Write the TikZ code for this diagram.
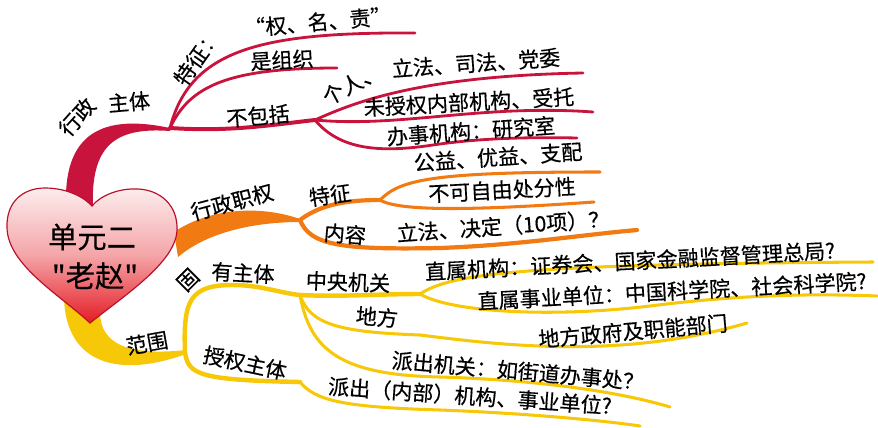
\documentclass[tikz,border=0pt]{standalone}
\usepackage{fontspec}
\newfontfamily\cjk[FakeBold=0.4]{Noto Sans CJK SC}
\definecolor{branchred}{HTML}{C8143C}
\definecolor{branchorange}{HTML}{F27A12}
\definecolor{branchyellow}{HTML}{F7C808}
\definecolor{heartred}{HTML}{E41C24}
\definecolor{heartedge}{HTML}{B8102A}

\begin{document}
\begin{tikzpicture}[x=0.03cm, y=-0.03cm, line cap=round,
  lbl/.style={font=\cjk\fontsize{18}{21}\selectfont, inner sep=0pt},
  title/.style={font=\cjk\fontsize{25}{28}\selectfont, inner sep=0pt},
  redmid/.style={draw=branchred, line width=3.4pt},
  redleaf/.style={draw=branchred, line width=2.4pt},
  orangemid/.style={draw=branchorange, line width=3.6pt},
  orangeleaf/.style={draw=branchorange, line width=2.6pt},
  yellowmid/.style={draw=branchyellow, line width=3.8pt},
  yellowleaf/.style={draw=branchyellow, line width=2.6pt}]
  \useasboundingbox (0,0) rectangle (878,428);
  \coordinate (zt) at (170,128);
  \coordinate (bk) at (315,120);
  \coordinate (zq) at (300,220);
  \coordinate (tz) at (380,200);
  \coordinate (fw) at (185,352);
  \coordinate (gy) at (300,295);
  \coordinate (zy) at (420,294);
  \coordinate (sq) at (300,382);
  \coordinate (qmz_e) at (415,33);
  \coordinate (szz_e) at (337,68);
  \coordinate (gr_e) at (583,73);
  \coordinate (wsq_e) at (593,112);
  \coordinate (bsj_e) at (577,138);
  \coordinate (gy_e) at (600,172);
  \coordinate (bky_e) at (594,202);
  \coordinate (nr_e) at (637,230);
  \coordinate (zsjg_e) at (873,262);
  \coordinate (zssy_e) at (877,296);
  \coordinate (df_e) at (747,323);
  \coordinate (pcjg_e) at (670,407);
  \coordinate (pcnb_e) at (640,426);

  % trunks
  \fill[branchred] (66,205) .. controls (64,140) and (95,112) .. (zt)
    -- (170,131) .. controls (115,127) and (90,145) .. (93,210) -- cycle;
  \fill[branchorange] (174,232) .. controls (210,208) and (260,205) .. (300,219)
    -- (zq) -- (300,222) .. controls (260,222) and (210,230) .. (178,257) -- cycle;
  \fill[branchyellow] (64,298) .. controls (66,365) and (120,378) .. (186,354)
    -- (186,350) .. controls (130,356) and (100,345) .. (100,312) -- cycle;

  % 行政主体
  \draw[redleaf] (zt) .. controls (190,50) and (260,32) .. (qmz_e);
  \draw[redleaf] (zt) .. controls (190,85) and (230,68) .. (szz_e);
  \draw[redmid] (zt) .. controls (230,132) and (270,125) .. (bk);
  \draw[redleaf] (bk) .. controls (355,102) and (420,76) .. (gr_e);
  \draw[redleaf] (bk) .. controls (400,128) and (480,104) .. (wsq_e);
  \draw[redleaf] (bk) .. controls (340,150) and (380,153) .. (433,145)
    .. controls (480,138) and (530,137) .. (bsj_e);
  \node[lbl, rotate=48] (xz) at (77,117) {行政};
  \node[lbl, rotate=5] (zti) at (129,102) {主体};
  \node[lbl, rotate=55] (tzh) at (197,57) {特征：};
  \node[lbl, rotate=5] (qmz) at (318,22) {“权、名、责”};
  \node[lbl, rotate=3] (szz) at (282,60) {是组织};
  \node[lbl, rotate=5] (bkk) at (258,116) {不包括};
  \node[lbl, rotate=28] (gr) at (352,84) {个人、};
  \node[lbl, rotate=4] (lf) at (476,63) {立法、司法、党委};
  \node[lbl, rotate=3] (wsq) at (469,102) {未授权内部机构、受托};
  \node[lbl, rotate=4] (bsj) at (471,131) {办事机构：研究室};

  % 行政职权
  \draw[orangemid] (zq) .. controls (320,205) and (345,200) .. (tz);
  \draw[orangeleaf] (tz) .. controls (400,180) and (430,172) .. (gy_e);
  \draw[orangeleaf] (tz) .. controls (400,212) and (480,210) .. (bky_e);
  \draw[orangemid] (zq) .. controls (310,245) and (340,250) .. (440,248)
    .. controls (520,245) and (580,235) .. (nr_e);
  \node[lbl, rotate=15] (zqn) at (232,202) {行政职权};
  \node[lbl, rotate=8] (tzo) at (330,195) {特征};
  \node[lbl, rotate=4] (gyn) at (498,157) {公益、优益、支配};
  \node[lbl, rotate=3] (bky) at (502,190) {不可自由处分性};
  \node[lbl, rotate=-5] (nr) at (345,234) {内容};
  \node[lbl, rotate=4] (lfj) at (503,226) {立法、决定（10项）？};

  % 范围
  \draw[yellowmid] (fw) .. controls (183,300) and (190,285) .. (233,285)
    .. controls (260,285) and (280,293) .. (gy);
  \draw[yellowmid] (gy) .. controls (340,297) and (380,294) .. (zy);
  \draw[yellowleaf] (zy) .. controls (450,274) and (520,264) .. (zsjg_e);
  \draw[yellowleaf] (zy) .. controls (450,312) and (550,318) .. (650,306)
    .. controls (730,296) and (800,293) .. (zssy_e);
  \draw[yellowleaf] (gy) .. controls (310,325) and (340,332) .. (420,335)
    .. controls (500,345) and (620,360) .. (df_e);
  \draw[yellowleaf] (gy) .. controls (310,350) and (340,375) .. (440,377)
    .. controls (540,380) and (620,392) .. (pcjg_e);
  \draw[yellowmid] (fw) .. controls (188,375) and (200,380) .. (sq);
  \draw[yellowleaf] (sq) .. controls (315,400) and (340,407) .. (440,410)
    .. controls (520,413) and (600,420) .. (pcnb_e);
  \node[lbl, rotate=10] (fwn) at (147,343) {范围};
  \node[lbl, rotate=45] (gu) at (188,280) {固};
  \node[lbl, rotate=-3] (yzt) at (243,273) {有主体};
  \node[lbl, rotate=-2] (zyj) at (348,282) {中央机关};
  \node[lbl, rotate=3] (zsjg) at (630,261) {直属机构：证券会、国家金融监督管理总局?};
  \node[lbl, rotate=3] (zssy) at (672,291) {直属事业单位：中国科学院、社会科学院?};
  \node[lbl, rotate=-5] (dfn) at (377,317) {地方};
  \node[lbl, rotate=5] (dfzf) at (633,331) {地方政府及职能部门};
  \node[lbl, rotate=-5] (pcjg) at (518,371) {派出机关：如街道办事处？};
  \node[lbl, rotate=-12] (sqzt) at (245,363) {授权主体};
  \node[lbl, rotate=-4] (pcnb) at (470,396) {派出（内部）机构、事业单位?};

  % heart
  \shade[top color=heartred!8!white, bottom color=heartred,
    middle color=heartred!40!white, draw=heartedge, line width=1pt]
    (90,323) .. controls (60,295) and (8,265) .. (7,228)
    .. controls (6,200) and (25,188) .. (45,188)
    .. controls (68,188) and (85,198) .. (92,206)
    .. controls (100,196) and (118,188) .. (138,189)
    .. controls (160,190) and (178,205) .. (177,230)
    .. controls (176,262) and (125,295) .. (90,323) -- cycle;
  \node[title] (dy) at (92,237) {单元二};
  \node[title] (lz) at (95,276) {"老赵"};
\end{tikzpicture}
\end{document}
